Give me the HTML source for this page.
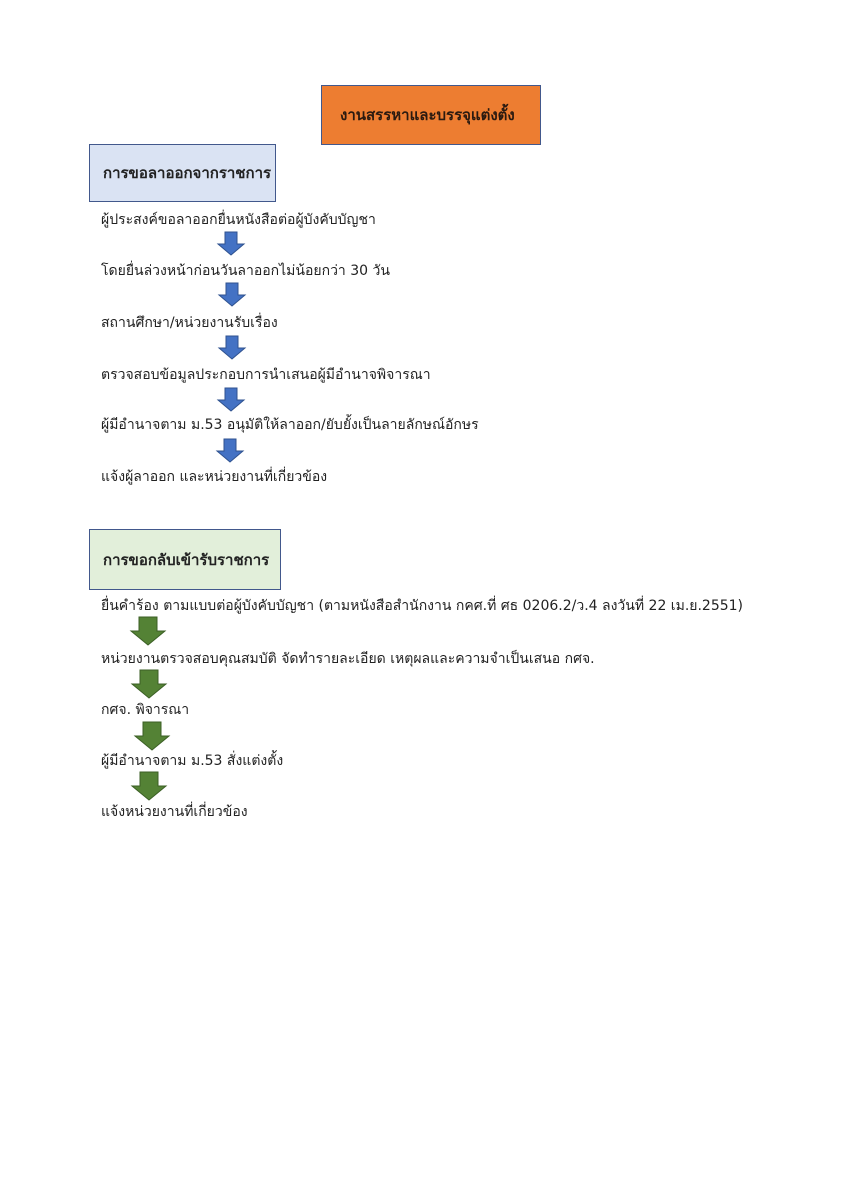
<!DOCTYPE html>
<html><head><meta charset="utf-8"><style>
body{margin:0;width:848px;height:1200px;background:#fff;position:relative;overflow:hidden;font-family:"DejaVu Sans","Liberation Sans",sans-serif;color:#222}
.t{position:absolute;font-size:14px;white-space:nowrap;line-height:18px}
.box{position:absolute;box-sizing:border-box;border:1.5px solid #42588c;font-weight:bold;font-size:15px;display:flex;align-items:center}
svg{position:absolute;left:0;top:0}
</style></head><body>
<div class="box" style="left:321px;top:85px;width:220px;height:60px;background:#ed7d31;padding-left:18px;color:#2a1a10">งานสรรหาและบรรจุแต่งตั้ง</div>
<div class="box" style="left:89px;top:144px;width:187px;height:58px;background:#dae3f3;padding-left:13px">การขอลาออกจากราชการ</div>
<div class="box" style="left:89px;top:529px;width:192px;height:61px;background:#e2efda;padding-left:13px">การขอกลับเข้ารับราชการ</div>

<div class="t" style="left:101px;top:211px">ผู้ประสงค์ขอลาออกยื่นหนังสือต่อผู้บังคับบัญชา</div>
<div class="t" style="left:101px;top:262px">โดยยื่นล่วงหน้าก่อนวันลาออกไม่น้อยกว่า 30 วัน</div>
<div class="t" style="left:101px;top:314px">สถานศึกษา/หน่วยงานรับเรื่อง</div>
<div class="t" style="left:101px;top:366px">ตรวจสอบข้อมูลประกอบการนำเสนอผู้มีอำนาจพิจารณา</div>
<div class="t" style="left:101px;top:416px">ผู้มีอำนาจตาม ม.53 อนุมัติให้ลาออก/ยับยั้งเป็นลายลักษณ์อักษร</div>
<div class="t" style="left:101px;top:468px">แจ้งผู้ลาออก และหน่วยงานที่เกี่ยวข้อง</div>

<div class="t" style="left:101px;top:597px">ยื่นคำร้อง ตามแบบต่อผู้บังคับบัญชา (ตามหนังสือสำนักงาน กคศ.ที่ ศธ 0206.2/ว.4 ลงวันที่ 22 เม.ย.2551)</div>
<div class="t" style="left:101px;top:650px">หน่วยงานตรวจสอบคุณสมบัติ จัดทำรายละเอียด เหตุผลและความจำเป็นเสนอ กศจ.</div>
<div class="t" style="left:101px;top:701px">กศจ. พิจารณา</div>
<div class="t" style="left:101px;top:752px">ผู้มีอำนาจตาม ม.53 สั่งแต่งตั้ง</div>
<div class="t" style="left:101px;top:803px">แจ้งหน่วยงานที่เกี่ยวข้อง</div>

<svg width="848" height="1200">
<g fill="#4472c4" stroke="#2f528f" stroke-width="1">
<path d="M225 232h12v12h7l-13 11l-13-11h7z"/>
<path d="M226 283h12v12h7l-13 11l-13-11h7z"/>
<path d="M226 336h12v12h7l-13 11l-13-11h7z"/>
<path d="M225 388h12v12h7l-13 11l-13-11h7z"/>
<path d="M224 439h12v12h7l-13 11l-13-11h7z"/>
</g>
<g fill="#548235" stroke="#3b5f25" stroke-width="1">
<path d="M139 617h18v14h8l-17 14l-17-14h8z"/>
<path d="M140 670h18v14h8l-17 14l-17-14h8z"/>
<path d="M143 722h18v14h8l-17 14l-17-14h8z"/>
<path d="M140 772h18v14h8l-17 14l-17-14h8z"/>
</g>
</svg>
</body></html>
